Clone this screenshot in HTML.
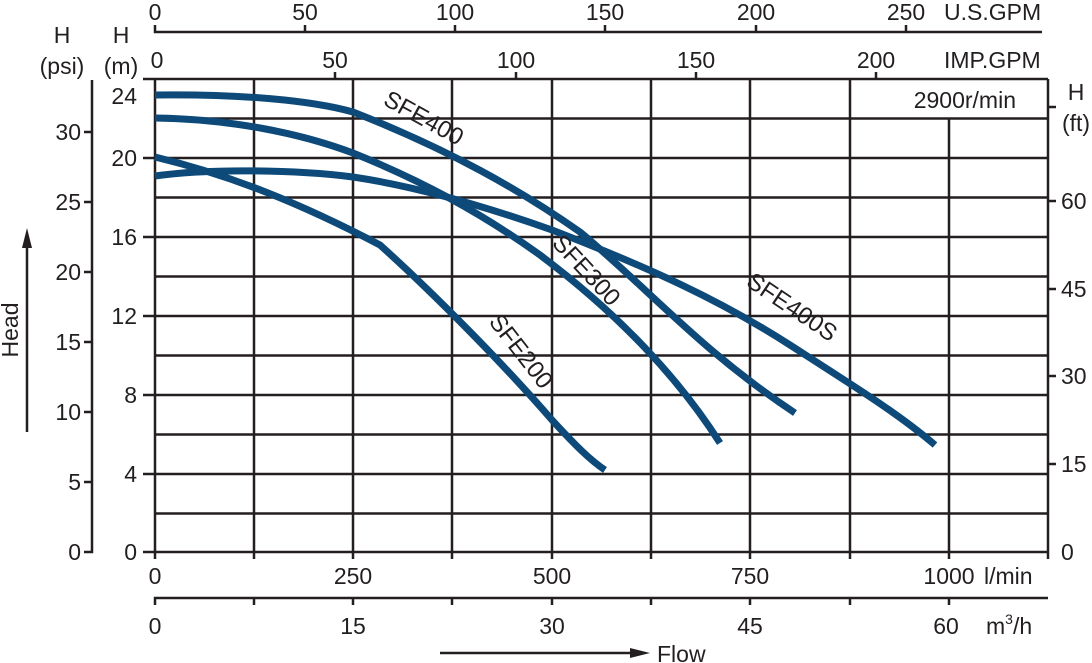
<!DOCTYPE html>
<html><head><meta charset="utf-8"><style>
html,body{margin:0;padding:0;background:#fff;}
svg{display:block;font-family:"Liberation Sans",sans-serif;}
</style></head><body>
<svg width="1092" height="663" viewBox="0 0 1092 663" xmlns="http://www.w3.org/2000/svg">
<g stroke="#231f20" stroke-width="2.5" fill="none">
<line x1="155" y1="79" x2="1048" y2="79"/>
<line x1="155" y1="118.5" x2="1048" y2="118.5"/>
<line x1="155" y1="158" x2="1048" y2="158"/>
<line x1="155" y1="197.5" x2="1048" y2="197.5"/>
<line x1="155" y1="237" x2="1048" y2="237"/>
<line x1="155" y1="276.5" x2="1048" y2="276.5"/>
<line x1="155" y1="316" x2="1048" y2="316"/>
<line x1="155" y1="355.5" x2="1048" y2="355.5"/>
<line x1="155" y1="395" x2="1048" y2="395"/>
<line x1="155" y1="434.5" x2="1048" y2="434.5"/>
<line x1="155" y1="474" x2="1048" y2="474"/>
<line x1="155" y1="513.5" x2="1048" y2="513.5"/>
<line x1="143" y1="552" x2="1048" y2="552"/>
<line x1="155" y1="79" x2="155" y2="559"/>
<line x1="254" y1="79" x2="254" y2="559"/>
<line x1="353" y1="79" x2="353" y2="559"/>
<line x1="452" y1="79" x2="452" y2="559"/>
<line x1="552" y1="79" x2="552" y2="559"/>
<line x1="651" y1="79" x2="651" y2="559"/>
<line x1="750" y1="79" x2="750" y2="559"/>
<line x1="850" y1="79" x2="850" y2="559"/>
<line x1="949" y1="118.5" x2="949" y2="559"/>
<line x1="1048" y1="79" x2="1048" y2="559"/>
<line x1="143" y1="158" x2="155" y2="158"/><line x1="143" y1="237" x2="155" y2="237"/>
<line x1="143" y1="316" x2="155" y2="316"/><line x1="143" y1="395" x2="155" y2="395"/>
<line x1="143" y1="474" x2="155" y2="474"/><line x1="143" y1="79" x2="155" y2="79"/>
<polyline points="92,80 92,552 84,552"/>
<line x1="84" y1="132" x2="92" y2="132"/><line x1="84" y1="202" x2="92" y2="202"/>
<line x1="84" y1="272" x2="92" y2="272"/><line x1="84" y1="342" x2="92" y2="342"/>
<line x1="84" y1="412" x2="92" y2="412"/><line x1="84" y1="482" x2="92" y2="482"/>
<line x1="1048" y1="107" x2="1056" y2="107"/><line x1="1048" y1="201" x2="1056" y2="201"/>
<line x1="1048" y1="289" x2="1056" y2="289"/><line x1="1048" y1="376" x2="1056" y2="376"/>
<line x1="1048" y1="464" x2="1056" y2="464"/>
<polyline points="155,25 155,32 1042,32"/>
<line x1="305" y1="25" x2="305" y2="32"/><line x1="455" y1="25" x2="455" y2="32"/>
<line x1="605" y1="25" x2="605" y2="32"/><line x1="756" y1="25" x2="756" y2="32"/>
<line x1="906" y1="25" x2="906" y2="32"/>
<line x1="335" y1="72" x2="335" y2="79"/><line x1="516" y1="72" x2="516" y2="79"/>
<line x1="696" y1="72" x2="696" y2="79"/><line x1="876" y1="72" x2="876" y2="79"/>
<polyline points="155,605 155,598 1048,598"/>
<line x1="254" y1="598" x2="254" y2="605"/><line x1="353" y1="598" x2="353" y2="605"/>
<line x1="452" y1="598" x2="452" y2="605"/><line x1="552" y1="598" x2="552" y2="605"/>
<line x1="651" y1="598" x2="651" y2="605"/><line x1="750" y1="598" x2="750" y2="605"/>
<line x1="850" y1="598" x2="850" y2="605"/><line x1="949" y1="598" x2="949" y2="605"/>
<line x1="440" y1="653" x2="635" y2="653"/>
<line x1="27" y1="432" x2="27" y2="245"/>
</g>
<polygon points="650,653 630,648 630,658" fill="#231f20"/>
<polygon points="27,228 22,248 32,248" fill="#231f20"/>
<g stroke="#0d4a7a" stroke-width="7" fill="none" stroke-linejoin="round">
<path d="M155,95 C240,94 310,100 353,112 C450,150 520,190 580,232 C650,290 700,350 795,413"/>
<path d="M155,118 C230,119 300,133 353,153 C420,180 480,212 540,255 C620,315 680,380 720,443"/>
<path d="M155,176 C210,168 300,170 353,177 C420,187 490,208 552,230 C650,268 720,300 790,345 C860,390 900,415 935,445"/>
<path d="M155,157 C230,175 300,203 380,245 C430,290 500,360 552,420 C575,445 590,460 605,470"/>
</g>
<g fill="#231f20" font-size="23">
<text x="155" y="20" text-anchor="middle">0</text>
<text x="305" y="20" text-anchor="middle">50</text>
<text x="455" y="20" text-anchor="middle">100</text>
<text x="605" y="20" text-anchor="middle">150</text>
<text x="756" y="20" text-anchor="middle">200</text>
<text x="906" y="20" text-anchor="middle">250</text>
<text x="944" y="20">U.S.GPM</text>
<text x="157" y="68" text-anchor="middle">0</text>
<text x="335" y="68" text-anchor="middle">50</text>
<text x="516" y="68" text-anchor="middle">100</text>
<text x="696" y="68" text-anchor="middle">150</text>
<text x="876" y="68" text-anchor="middle">200</text>
<text x="944" y="68">IMP.GPM</text>
<text x="62" y="43" text-anchor="middle">H</text>
<text x="62" y="74" text-anchor="middle">(psi)</text>
<text x="121" y="43" text-anchor="middle">H</text>
<text x="121" y="74" text-anchor="middle">(m)</text>
<text x="1076" y="100" text-anchor="middle">H</text>
<text x="1076" y="131" text-anchor="middle">(ft)</text>
<text x="1016" y="108" text-anchor="end">2900r/min</text>
<text x="137" y="104" text-anchor="end">24</text>
<text x="137" y="166" text-anchor="end">20</text>
<text x="137" y="245" text-anchor="end">16</text>
<text x="137" y="324" text-anchor="end">12</text>
<text x="137" y="403" text-anchor="end">8</text>
<text x="137" y="482" text-anchor="end">4</text>
<text x="137" y="560" text-anchor="end">0</text>
<text x="81" y="140" text-anchor="end">30</text>
<text x="81" y="210" text-anchor="end">25</text>
<text x="81" y="280" text-anchor="end">20</text>
<text x="81" y="350" text-anchor="end">15</text>
<text x="81" y="420" text-anchor="end">10</text>
<text x="81" y="490" text-anchor="end">5</text>
<text x="81" y="560" text-anchor="end">0</text>
<text x="1061" y="209">60</text>
<text x="1061" y="297">45</text>
<text x="1061" y="384">30</text>
<text x="1061" y="472">15</text>
<text x="1061" y="560">0</text>
<text x="155" y="584" text-anchor="middle">0</text>
<text x="353" y="584" text-anchor="middle">250</text>
<text x="552" y="584" text-anchor="middle">500</text>
<text x="750" y="584" text-anchor="middle">750</text>
<text x="949" y="584" text-anchor="middle">1000</text>
<text x="984" y="584">l/min</text>
<text x="155" y="634" text-anchor="middle">0</text>
<text x="353" y="634" text-anchor="middle">15</text>
<text x="552" y="634" text-anchor="middle">30</text>
<text x="750" y="634" text-anchor="middle">45</text>
<text x="946" y="634" text-anchor="middle">60</text>
<text x="986" y="634">m<tspan font-size="14" dy="-10">3</tspan><tspan dy="10">/h</tspan></text>
<text x="657" y="662">Flow</text>
<text transform="translate(18,330) rotate(-90)" text-anchor="middle">Head</text>
<text font-size="24" transform="translate(382,104) rotate(29)">SFE400</text>
<text font-size="24" transform="translate(551,244) rotate(47)">SFE300</text>
<text font-size="24" transform="translate(745,285) rotate(34)">SFE400S</text>
<text font-size="24" transform="translate(488,322) rotate(52)">SFE200</text>
</g>
</svg>
</body></html>
